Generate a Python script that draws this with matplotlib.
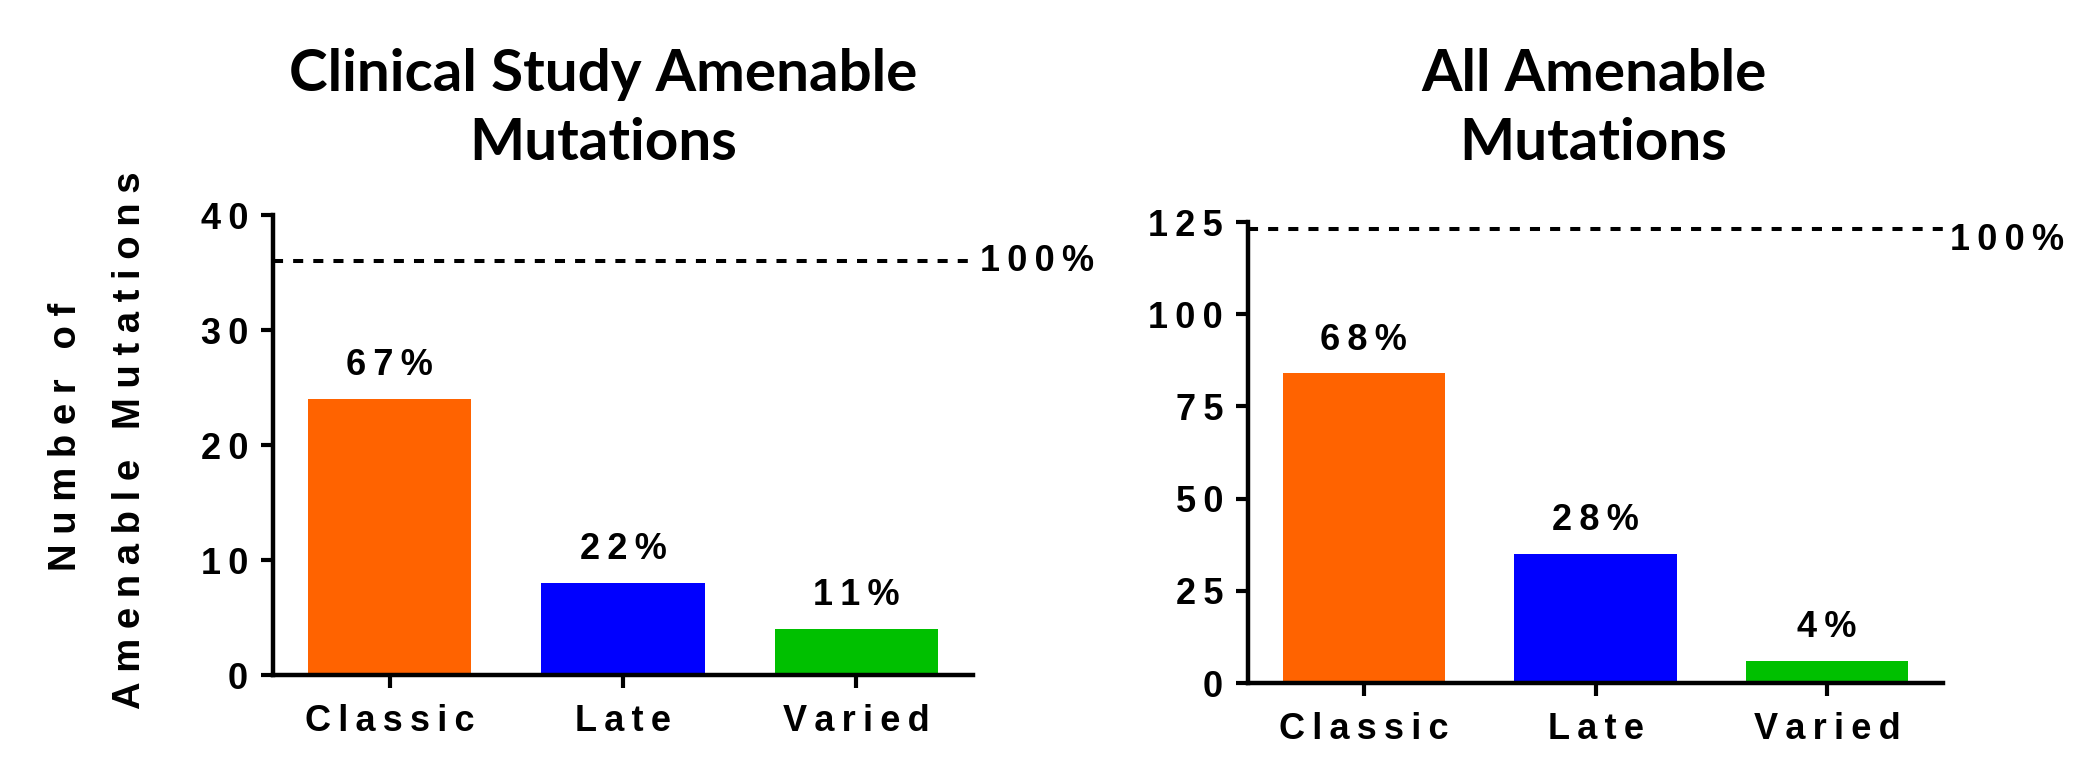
import numpy as np
import matplotlib.pyplot as plt

categories = ["Classic", "Late", "Varied"]
bar_colors = ["#FF6300", "#0000FF", "#00C000"]

clinical_counts = [24, 8, 4]
clinical_total = 36
clinical_pct = ["67%", "22%", "11%"]

all_counts = [84, 35, 6]
all_total = 123
all_pct = ["68%", "28%", "4%"]

plt.rcParams['font.family'] = ['Liberation Sans', 'DejaVu Sans']
plt.rcParams['font.weight'] = 'bold'


def spaced(s, sep='\u2009'):
    # GraphPad style letter spacing
    return sep.join(s)


def panel(ax, counts, total, pct, ymax, step, top_dy):
    x = np.arange(len(categories))
    ax.bar(x, counts, width=0.7, color=bar_colors)
    ax.axhline(total, color='black', lw=2.9, ls=(0, (2.5, 2.5)))
    for xi, c, p in zip(x, counts, pct):
        ax.annotate(spaced(p), (xi, c), xytext=(0, 17), textcoords='offset points',
                    ha='center', va='baseline', fontsize=26, fontweight='bold')
    ax.annotate(spaced('100%'), (2.5, total), xytext=(5, top_dy), textcoords='offset points',
                ha='left', va='center', fontsize=26, fontweight='bold', annotation_clip=False)
    ax.set_xlim(-0.5, 2.5)
    ax.set_ylim(0, ymax)
    ax.set_xticks(x, [spaced(c) for c in categories])
    yt = np.arange(0, ymax + 1, step)
    ax.set_yticks(yt, [spaced(str(v)) for v in yt])
    for s in ['top', 'right']:
        ax.spines[s].set_visible(False)
    for s in ['left', 'bottom']:
        ax.spines[s].set_linewidth(3.2)
    ax.tick_params(axis='both', width=3, length=9, labelsize=26)
    ax.tick_params(axis='x', pad=12)
    ax.tick_params(axis='y', pad=9)


fig = plt.figure(figsize=(20.94, 7.67), dpi=100)
ax1 = fig.add_axes([0.1304, 0.1199, 0.3343, 0.5997])
ax2 = fig.add_axes([0.5960, 0.1095, 0.3319, 0.6010])

panel(ax1, clinical_counts, clinical_total, clinical_pct, 40, 10, 0)
panel(ax2, all_counts, all_total, all_pct, 125, 25, -8)

title_kw = dict(ha='center', va='baseline', fontsize=42, family='Lato', weight='bold')
fig.text(0.288, 0.881, "Clinical Study Amenable", **title_kw)
fig.text(0.288, 0.791, "Mutations", **title_kw)
fig.text(0.761, 0.881, "All Amenable", **title_kw)
fig.text(0.761, 0.791, "Mutations", **title_kw)

ylab_kw = dict(rotation=90, ha='center', va='center', fontsize=27.5, fontweight='bold')
fig.text(66 / 2094, 1 - 437 / 767, '\u2005'.join("Number of"), **ylab_kw)
fig.text(130 / 2094, 1 - 440 / 767, '\u2005'.join("Amenable Mutations"), **ylab_kw)

fig.savefig("out.png", dpi=100)
